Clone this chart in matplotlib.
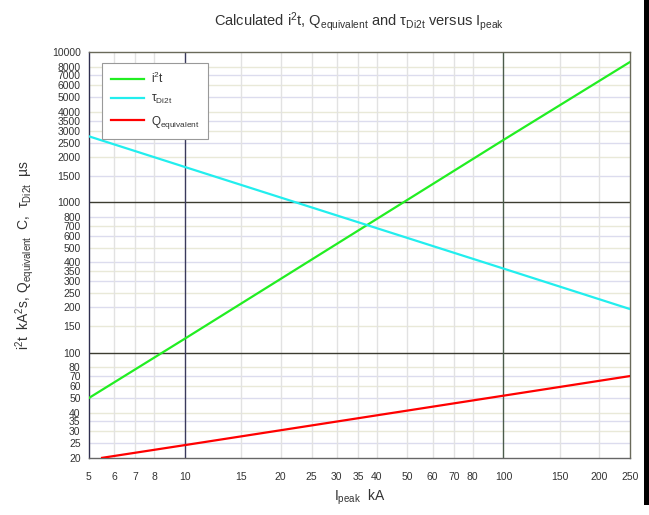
import matplotlib
matplotlib.use("Agg")
import matplotlib.pyplot as plt
from matplotlib.ticker import FixedLocator, NullLocator, FixedFormatter
from matplotlib.patches import Rectangle

plt.rcParams['font.family'] = ['Liberation Sans', 'DejaVu Sans']
plt.rcParams['mathtext.fontset'] = 'custom'
plt.rcParams['mathtext.rm'] = 'Liberation Sans'
plt.rcParams['mathtext.it'] = 'Liberation Sans:italic'

# data (straight lines on log-log axes)
ipeak = [5, 10, 100, 250]
i2t = [50, 124, 2600, 8600]
tau = [2750, 1720, 363, 195]
q_ipeak = [5.5, 10, 100, 250]
q_equiv = [20, 24.3, 51.8, 70]

x_ticks = [5, 6, 7, 8, 10, 15, 20, 25, 30, 35, 40, 50, 60, 70, 80, 100, 150, 200, 250]
y_ticks = [20, 25, 30, 35, 40, 50, 60, 70, 80, 100, 150, 200, 250, 300, 350, 400,
           500, 600, 700, 800, 1000, 1500, 2000, 2500, 3000, 3500, 4000, 5000,
           6000, 7000, 8000, 10000]

TXT = '#333333'

fig = plt.figure(figsize=(6.49, 5.15), dpi=100)
ax = fig.add_axes([0.137, 0.111, 0.834, 0.788])
ax.set_xscale('log')
ax.set_yscale('log')
ax.set_xlim(5, 250)
ax.set_ylim(20, 10000)

# grid
for i, v in enumerate(y_ticks):
    if v in (100, 1000):
        ax.axhline(v, color='#3c3c30', lw=1.0, zorder=1)
    elif v not in (20, 10000):
        ax.axhline(v, color='#dcdcee' if i % 2 else '#e9e9d8', lw=1.0, zorder=0)
for v in x_ticks:
    if v == 10:
        ax.axvline(v, color='#3a3a5c', lw=1.0, zorder=1)
    elif v == 100:
        ax.axvline(v, color='#4c5c4c', lw=1.0, zorder=1)
    elif v not in (5, 250):
        ax.axvline(v, color='#e2e2e2', lw=1.0, zorder=0)

ax.plot(ipeak, i2t, color='#22ee22', lw=1.6, label=r'$\mathregular{i^2t}$', zorder=3)
ax.plot(ipeak, tau, color='#22eeee', lw=1.6, label=r'$\mathregular{\tau_{Di2t}}$', zorder=3)
ax.plot(q_ipeak, q_equiv, color='#ff0000', lw=1.6, label=r'$\mathregular{Q_{equivalent}}$', zorder=3)

ax.xaxis.set_major_locator(FixedLocator(x_ticks))
ax.xaxis.set_major_formatter(FixedFormatter([str(v) for v in x_ticks]))
ax.xaxis.set_minor_locator(NullLocator())
ax.yaxis.set_major_locator(FixedLocator(y_ticks))
ax.yaxis.set_major_formatter(FixedFormatter([str(v) for v in y_ticks]))
ax.yaxis.set_minor_locator(NullLocator())
ax.tick_params(axis='x', length=0, pad=10, labelsize=7.5, labelcolor=TXT)
ax.tick_params(axis='y', length=0, pad=6, labelsize=7.5, labelcolor=TXT)

ax.spines['left'].set_color('#303050')
ax.spines['bottom'].set_color('#666666')
ax.spines['top'].set_color('#6a6a5a')
ax.spines['right'].set_color('#6a6a5a')
for s in ax.spines.values():
    s.set_linewidth(1.0)

ax.set_title(r'Calculated $\mathregular{i^2t}$, $\mathregular{Q_{equivalent}}$ and '
             r'$\mathregular{\tau_{Di2t}}$ versus $\mathregular{I_{peak}}$',
             fontsize=10.5, color=TXT, pad=19)
ax.set_xlabel(r'$\mathregular{I_{peak}}$  kA', fontsize=10, color=TXT, labelpad=4)
ax.set_ylabel(r'$\mathregular{i^2t}$  kA$\mathregular{^2}$s, $\mathregular{Q_{equivalent}}$  C,  '
              r'$\mathregular{\tau_{Di2t}}$  µs', fontsize=10, color=TXT, labelpad=11)

leg = ax.legend(loc='upper left', bbox_to_anchor=(0.014, 0.988), fancybox=False,
                edgecolor='#999999', framealpha=1, fontsize=8.5, handlelength=2.8,
                handletextpad=0.6, borderpad=0.7, labelspacing=0.6)
leg.get_frame().set_linewidth(0.8)
for t in leg.get_texts():
    t.set_color(TXT)

# black border on the right edge of the screenshot
fig.add_artist(Rectangle((0.993, 0.02), 0.007, 0.98, transform=fig.transFigure,
                         color='black', lw=0))

fig.savefig('out.png', dpi=100)
